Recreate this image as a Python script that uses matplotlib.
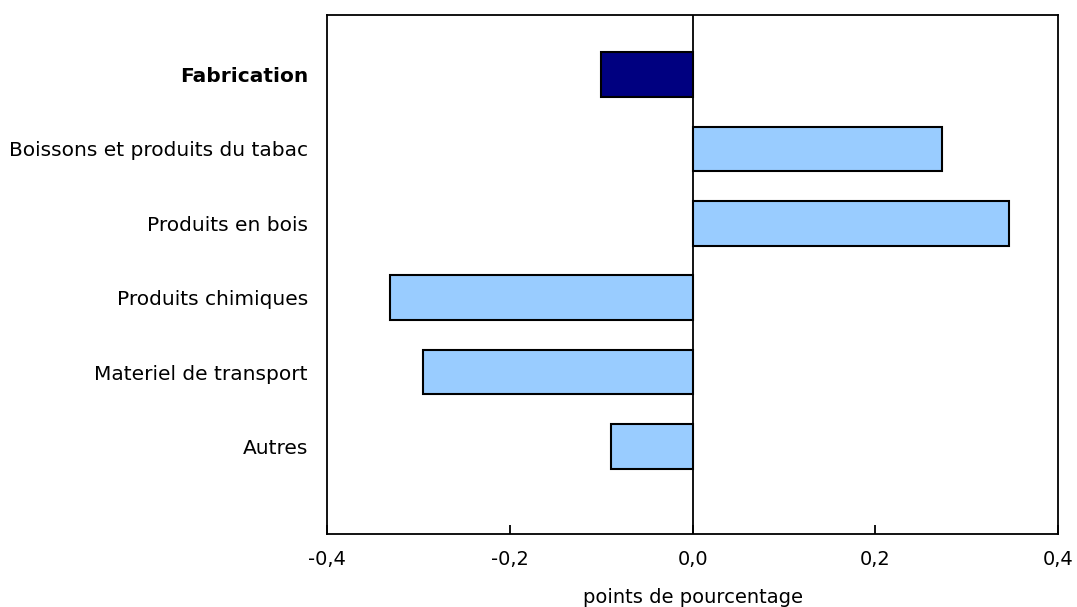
import matplotlib
matplotlib.use("Agg")
from matplotlib import pyplot as plt

# categories, top to bottom
categories = ["Fabrication", "Boissons et produits du tabac", "Produits en bois",
              "Produits chimiques", "Materiel de transport", "Autres"]
values = [-0.10, 0.273, 0.346, -0.332, -0.295, -0.089]
bar_colors = ["#000080", "#99CCFF", "#99CCFF", "#99CCFF", "#99CCFF", "#99CCFF"]
xticks = [-0.4, -0.2, 0.0, 0.2, 0.4]
xtick_labels = ["-0,4", "-0,2", "0,0", "0,2", "0,4"]

plt.rcParams['font.family'] = ['DejaVu Sans']

fig = plt.figure(figsize=(10.77, 6.07), dpi=100)
ax = fig.add_axes([0.304, 0.1198, 0.6784, 0.8555])

pos = list(range(len(categories)))
ax.barh(pos, values, height=0.6, color=bar_colors, edgecolor="black", linewidth=1.5, zorder=2)
ax.axvline(0, color="black", linewidth=1.3, zorder=3)

ax.set_xlim(-0.4, 0.4)
ax.set_ylim(len(categories) - 1 + 1.18, -0.8)
ax.set_xticks(xticks)
ax.set_xticklabels(xtick_labels, fontsize=14)
ax.set_yticks(pos)
ax.set_yticklabels(categories, fontsize=14.5)
ax.get_yticklabels()[0].set_fontweight("bold")
ax.tick_params(axis="x", direction="in", length=6.5, width=1.3, pad=11, top=False)
ax.tick_params(axis="y", length=0, pad=14)
for s in ax.spines.values():
    s.set_linewidth(1.3)

fig.text(0.643, 0.0, "points de pourcentage", ha="center", va="bottom", fontsize=14)

fig.savefig("out.png", dpi=100)
